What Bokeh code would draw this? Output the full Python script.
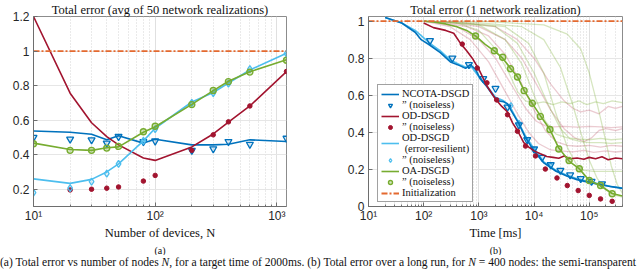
from bokeh.plotting import figure
from bokeh.models import FixedTicker, Legend, LegendItem, Title, Div, Range1d
from bokeh.layouts import row, column
from bokeh.embed import file_html
from bokeh.resources import INLINE

BLUE = "#0072BD"; RED = "#A2142F"; LBLUE = "#4DBEEE"; GREEN = "#77AC30"; ORANGE = "#E4692F"
nan = float("nan")

# ---------------- (a) Total error vs number of devices ----------------
N = [10, 20, 30, 40, 50, 80, 100, 200, 300, 400, 600, 1200]
ncota_a = [0.537, 0.53, 0.518, 0.486, 0.51, 0.467, 0.489, 0.457, 0.457, 0.46, 0.486, 0.476]
ncota_nl_a = [0.50, 0.49, 0.486, 0.467, 0.505, 0.475, 0.479, 0.425, 0.434, 0.476, 0.46, 0.495]
od_a = [1.2, 0.756, 0.585, 0.505, 0.457, 0.381, 0.367, 0.445, 0.52, 0.588, 0.682, 0.881]
od_nl_a = [nan, 0.196, 0.2, 0.206, 0.213, 0.247, 0.28, 0.425, 0.515, 0.59, 0.682, 0.882]
er_a = [0.26, 0.234, 0.257, 0.30, 0.347, 0.48, 0.553, 0.705, 0.76, 0.815, 0.89, 0.987]
er_nl_a = [0.18, 0.206, 0.244, 0.29, 0.347, 0.48, 0.548, 0.70, 0.757, 0.812, 0.895, 0.985]
oa_a = [0.467, 0.43, 0.425, 0.44, 0.445, 0.53, 0.562, 0.691, 0.771, 0.825, 0.88, 0.949]
oa_nl_a = [0.463, 0.425, 0.425, 0.438, 0.448, 0.533, 0.565, 0.69, 0.772, 0.823, 0.878, 0.947]
init_level = 1.0
xticks_a = [10, 100, 1000]
xminor_a = [20, 30, 40, 50, 60, 70, 80, 90, 200, 300, 400, 500, 600, 700, 800, 900]
yticks_a = [0.2, 0.4, 0.6, 0.8, 1.0, 1.2]
ylabels_a = ["0.2", "0.4", "0.6", "0.8", "1", "1.2"]

# ---------------- (b) Total error over time (N = 400) ----------------
t_ncota = [20, 40, 70, 90, 130, 200, 305, 450, 573, 700, 870, 1070, 1400, 1800, 2150, 2800, 3300, 3800,
           5300, 7000, 1e4, 1.5e4, 2.5e4, 4e4, 6e4, 1e5, 1.6e5, 2.5e5, 4e5]
y_ncota = [1.02, 0.99, 0.94, 0.90, 0.87, 0.83, 0.78, 0.76, 0.745, 0.765, 0.74, 0.686, 0.646, 0.60, 0.571,
           0.565, 0.555, 0.52, 0.447, 0.37, 0.30, 0.235, 0.19, 0.163, 0.145, 0.13, 0.118, 0.107, 0.098]
t_ncota_nl = [130, 330, 660, 1200, 2000, 3300, 5300, 7500, 1e4, 1.4e4, 2e4, 3e4, 4.5e4, 7e4, 1.1e5, 1.7e5]
y_ncota_nl = [0.895, 0.80, 0.765, 0.69, 0.637, 0.536, 0.44, 0.36, 0.31, 0.265, 0.225, 0.195, 0.17, 0.15,
              0.135, 0.122]
t_od = [100, 150, 250, 350, 465, 600, 760, 1000, 1400, 2000, 2600, 3300, 4100, 5000, 6500, 8000, 1e4,
        1.3e4, 1.7e4, 2.2e4, 2.8e4, 3.5e4, 4.5e4, 6e4, 8e4, 1e5, 1.3e5, 1.7e5, 2.2e5, 3e5, 4e5]
y_od = [0.99, 0.965, 0.95, 0.935, 0.88, 0.84, 0.80, 0.74, 0.65, 0.58, 0.54, 0.51, 0.45, 0.41, 0.345, 0.32,
        0.30, 0.285, 0.27, 0.265, 0.26, 0.272, 0.258, 0.262, 0.255, 0.265, 0.258, 0.268, 0.252, 0.262, 0.258]
t_od_nl = [500, 935, 1400, 2100, 3300, 5000, 7000, 1.06e4, 1.6e4, 2.6e4, 4e4, 6.3e4, 1e5, 1.6e5, 2.6e5]
y_od_nl = [0.876, 0.747, 0.667, 0.575, 0.495, 0.406, 0.326, 0.273, 0.202, 0.154, 0.113, 0.086, 0.06, 0.041,
           0.028]
t_er = [20, 40, 70, 130, 200, 305, 450, 600, 750, 1000, 1400, 2000, 2800, 3800, 5300, 7000, 1e4, 1.5e4,
        2.5e4, 4e4, 6e4, 1e5, 1.6e5, 2.5e5, 4e5]
y_er = [1.02, 0.99, 0.95, 0.88, 0.84, 0.79, 0.765, 0.75, 0.75, 0.70, 0.65, 0.59, 0.57, 0.53, 0.45, 0.38,
        0.31, 0.24, 0.195, 0.168, 0.15, 0.133, 0.12, 0.108, 0.10]
t_er_nl = [3800, 5300, 1e4, 2e4]
y_er_nl = [0.545, 0.45, 0.305, 0.22]
t_oa = [100, 150, 250, 400, 600, 870, 1300, 1900, 2700, 3750, 5000, 6600, 9300, 1.3e4, 1.94e4, 2.8e4,
        4.3e4, 6.6e4, 1e5, 1.6e5, 2.6e5, 4e5]
y_oa = [1.0, 0.995, 0.985, 0.97, 0.95, 0.92, 0.875, 0.84, 0.80, 0.745, 0.70, 0.625, 0.555, 0.49, 0.415,
        0.315, 0.245, 0.203, 0.14, 0.112, 0.07, 0.057]
t_oa_nl = [870, 1900, 2700, 3750, 5000, 6600, 9300, 1.3e4, 1.94e4, 2.8e4, 4.3e4, 6.6e4, 1e5, 1.6e5, 2.6e5]
y_oa_nl = [0.92, 0.84, 0.805, 0.743, 0.699, 0.625, 0.557, 0.486, 0.415, 0.31, 0.248, 0.204, 0.14, 0.113,
           0.069]

# semi-transparent runs
faint_od_t = [
    [100, 300, 700, 1500, 3000, 5000, 8000, 1.2e4, 2e4, 3e4, 5e4, 8e4, 1.2e5, 2e5, 3e5, 4e5],
    [120, 400, 1000, 2000, 4000, 7000, 1.1e4, 1.6e4, 2.2e4, 3.5e4, 6e4, 1e5, 1.6e5, 2.5e5, 4e5],
    [150, 600, 1500, 3000, 6000, 1e4, 1.6e4, 2.5e4, 4e4, 6e4, 1e5, 1.6e5, 2.5e5, 4e5],
    [200, 1000, 3000, 6000, 1.1e4, 2e4, 3.5e4, 5.5e4, 8e4, 1.1e5, 1.5e5, 2e5, 3e5, 4e5],
    [300, 2000, 5000, 1e4, 2e4, 3.5e4, 5e4, 7e4, 1e5, 1.5e5, 2.2e5, 3e5, 4e5],
]
faint_od_y = [
    [1.0, 0.97, 0.9, 0.78, 0.62, 0.5, 0.4, 0.34, 0.305, 0.30, 0.295, 0.303, 0.292, 0.30, 0.294, 0.298],
    [1.0, 0.97, 0.9, 0.8, 0.65, 0.53, 0.46, 0.435, 0.43, 0.432, 0.428, 0.432, 0.43, 0.425, 0.43],
    [1.0, 0.97, 0.92, 0.82, 0.66, 0.52, 0.41, 0.35, 0.33, 0.325, 0.33, 0.32, 0.33, 0.325],
    [1.0, 0.97, 0.9, 0.8, 0.66, 0.52, 0.42, 0.37, 0.35, 0.37, 0.41, 0.42, 0.41, 0.42],
    [1.0, 0.97, 0.9, 0.8, 0.66, 0.57, 0.53, 0.51, 0.52, 0.5, 0.54, 0.53, 0.54],
]
faint_oa_t = [
    [100, 400, 1000, 2000, 3500, 5000, 7000, 1e4, 1.5e4, 2.2e4, 3.2e4, 4.5e4, 6.5e4, 9e4, 1.3e5, 1.8e5, 2.6e5, 4e5],
    [150, 1000, 3000, 6000, 1e4, 1.6e4, 2.5e4, 4e4, 6e4, 1e5, 1.6e5, 2.5e5, 4e5],
    [200, 2000, 5000, 1e4, 1.8e4, 3e4, 4.5e4, 7e4, 1e5, 1.6e5, 2.5e5, 4e5],
    [300, 3000, 8000, 1.5e4, 2.5e4, 4e4, 6e4, 8e4, 1.2e5, 2e5, 4e5],
    [500, 6000, 1.5e4, 3e4, 5e4, 7e4, 1e5, 1.4e5, 2e5, 3e5, 4e5],
    [1000, 1.5e4, 4e4, 7e4, 1e5, 1.4e5, 1.9e5, 2.5e5, 3.2e5, 4e5],
]
faint_oa_y = [
    [1.0, 0.99, 0.95, 0.85, 0.72, 0.62, 0.57, 0.555, 0.565, 0.55, 0.565, 0.555, 0.57, 0.55, 0.565, 0.555, 0.57, 0.56],
    [1.0, 0.98, 0.9, 0.77, 0.6, 0.46, 0.39, 0.37, 0.365, 0.36, 0.368, 0.36, 0.365],
    [1.0, 0.97, 0.88, 0.72, 0.55, 0.42, 0.365, 0.35, 0.345, 0.345, 0.34, 0.345],
    [1.0, 0.97, 0.88, 0.72, 0.5, 0.32, 0.22, 0.195, 0.19, 0.19, 0.19],
    [1.0, 0.97, 0.9, 0.75, 0.55, 0.4, 0.25, 0.15, 0.09, 0.06, 0.05],
    [1.0, 0.98, 0.93, 0.85, 0.72, 0.55, 0.38, 0.22, 0.12, 0.07],
]
t_range_b = (10, 4e5)
xticks_b = [10, 100, 1000, 1e4, 1e5]
xminor_b = [m * d for d in (10, 100, 1000, 1e4, 1e5) for m in range(2, 10)]
yticks_b = [0, 0.2, 0.4, 0.6, 0.8, 1.0]
ylabels_b = ["0", "0.2", "0.4", "0.6", "0.8", "1"]
SUP = {10: "10\u00b9", 100: "10\u00b2", 1000: "10\u00b3", 1e4: "10\u2074", 1e5: "10\u2075"}

SERIF = "Liberation Serif"
SANS = "Liberation Sans"
FIG_H = 255


def style(p, xt, xm, yt, yl, title, xlabel, sub):
    p.title.text = title
    p.title.align = "center"
    p.title.text_font = SERIF
    p.title.text_font_size = "12.5px"
    p.title.text_font_style = "normal"
    p.title.text_color = "#111111"
    p.title.standoff = 0
    p.outline_line_color = "#8c8c8c"
    p.background_fill_color = "white"
    p.border_fill_color = "white"
    p.xaxis.ticker = FixedTicker(ticks=xt, minor_ticks=xm)
    p.xaxis.major_label_overrides = {k: SUP[k] for k in xt}
    p.yaxis.ticker = FixedTicker(ticks=yt)
    p.yaxis.major_label_overrides = dict(zip(yt, yl))
    for ax in p.axis:
        ax.axis_line_color = "#6e6e6e"
        ax.major_tick_line_color = "#6e6e6e"
        ax.minor_tick_line_color = "#6e6e6e"
        ax.major_tick_in = 4
        ax.major_tick_out = 0
        ax.minor_tick_in = 2
        ax.minor_tick_out = 0
        ax.major_label_text_font = SANS
        ax.major_label_text_font_size = "12px"
        ax.major_label_text_color = "#262626"
        ax.major_label_standoff = 4
    p.xaxis.major_label_standoff = 2
    p.yaxis.minor_tick_line_color = None
    p.xaxis.axis_label = xlabel
    p.xaxis.axis_label_text_font = SERIF
    p.xaxis.axis_label_text_font_size = "12.5px"
    p.xaxis.axis_label_text_font_style = "normal"
    p.xaxis.axis_label_text_color = "#111111"
    p.xaxis.axis_label_standoff = 0
    p.xgrid.grid_line_color = "#e0e0e0"
    p.xgrid.minor_grid_line_color = "#d4d4d4"
    p.xgrid.minor_grid_line_dash = "1 2"
    p.ygrid.grid_line_color = "#e6e6e6"
    p.add_layout(Title(text=sub, align="center", text_font=SERIF, text_font_size="10px",
                       text_font_style="normal", text_color="#111111", standoff=0), "below")


# ---- panel (a)
pa = figure(width=320, height=FIG_H, x_axis_type="log", output_backend="svg", toolbar_location=None,
            x_range=Range1d(N[0], N[-1]), y_range=Range1d(0.1, 1.2),
            min_border_left=33, min_border_right=34, min_border_top=0, min_border_bottom=0)
style(pa, xticks_a, xminor_a, yticks_a, ylabels_a, "Total error (avg of 50 network realizations)",
      "Number of devices, N", "(a)")
pa.line(N, ncota_a, color=BLUE, line_width=1.6)
pa.scatter(N, ncota_nl_a, marker="inverted_triangle", size=7, line_color=BLUE, fill_color=BLUE,
           fill_alpha=0.15, line_width=1.3)
pa.line(N, od_a, color=RED, line_width=1.6)
pa.scatter(N, od_nl_a, marker="circle", size=4.5, color=RED)
pa.line(N, er_a, color=LBLUE, line_width=1.6)
pa.scatter(N, er_nl_a, marker="diamond", size=7, line_color=LBLUE, fill_color=LBLUE, fill_alpha=0.15,
           line_width=1.3)
pa.line(N, oa_a, color=GREEN, line_width=1.6)
pa.scatter(N, oa_nl_a, marker="circle", size=6, line_color=GREEN, fill_color=GREEN, fill_alpha=0.3,
           line_width=1.4)
pa.line([N[0], N[-1]], [init_level, init_level], color=ORANGE, line_width=1.8, line_dash="6 2 2 2")

# ---- panel (b)
pb = figure(width=320, height=FIG_H, x_axis_type="log", output_backend="svg", toolbar_location=None,
            x_range=Range1d(*t_range_b), y_range=Range1d(0, 1.025),
            min_border_left=48, min_border_right=18, min_border_top=0, min_border_bottom=0)
style(pb, xticks_b, xminor_b, yticks_b, ylabels_b, "Total error (1 network realization)", "Time [ms]", "(b)")
for tt, yy in zip(faint_od_t, faint_od_y):
    pb.line(tt, yy, color=RED, alpha=0.22, line_width=1.3)
for tt, yy in zip(faint_oa_t, faint_oa_y):
    pb.line(tt, yy, color=GREEN, alpha=0.3, line_width=1.3)
r_er = pb.line(t_er, y_er, color=LBLUE, line_width=1.6)
r_er_nl = pb.scatter(t_er_nl, y_er_nl, marker="diamond", size=6, line_color=LBLUE, fill_color=LBLUE,
                     fill_alpha=0.15, line_width=1.2)
r_nc = pb.line(t_ncota, y_ncota, color=BLUE, line_width=1.6)
r_nc_nl = pb.scatter(t_ncota_nl, y_ncota_nl, marker="inverted_triangle", size=7, line_color=BLUE,
                     fill_color=BLUE, fill_alpha=0.15, line_width=1.3)
r_od = pb.line(t_od, y_od, color=RED, line_width=1.6)
r_od_nl = pb.scatter(t_od_nl, y_od_nl, marker="circle", size=4.5, color=RED)
r_oa = pb.line(t_oa, y_oa, color=GREEN, line_width=1.6)
r_oa_nl = pb.scatter(t_oa_nl, y_oa_nl, marker="circle", size=6, line_color=GREEN, fill_color=GREEN,
                     fill_alpha=0.3, line_width=1.4)
r_init = pb.line(list(t_range_b), [init_level, init_level], color=ORANGE, line_width=1.8,
                 line_dash="6 2 2 2")

q = "\u201d"
legend = Legend(items=[
    LegendItem(label="NCOTA-DSGD", renderers=[r_nc]),
    LegendItem(label=q + " (noiseless)", renderers=[r_nc_nl]),
    LegendItem(label="OD-DSGD", renderers=[r_od]),
    LegendItem(label=q + " (noiseless)", renderers=[r_od_nl]),
    LegendItem(label="OD-DSGD\n (error-resilient)", renderers=[r_er]),
    LegendItem(label=q + " (noiseless)", renderers=[r_er_nl]),
    LegendItem(label="OA-DSGD", renderers=[r_oa]),
    LegendItem(label=q + " (noiseless)", renderers=[r_oa_nl]),
    LegendItem(label="Initialization", renderers=[r_init]),
], location=(9, 4))
legend.label_text_font = SERIF
legend.label_text_font_size = "10.5px"
legend.label_text_color = "#111111"
legend.label_height = 10
legend.glyph_height = 10
legend.glyph_width = 18
legend.label_standoff = 3
legend.spacing = 0
legend.padding = 3
legend.margin = 0
legend.border_line_color = "#444444"
legend.border_line_width = 0.8
legend.background_fill_alpha = 1.0
pb.add_layout(legend)

caption_text = ("(a) Total error vs number of nodes <i>N</i>, for a target time of 2000ms. "
                "(b) Total error over a long run, for <i>N</i> = 400 nodes: the semi-transparent")
caption = Div(text='<div style="width:640px;overflow:hidden;white-space:nowrap;line-height:15px;'
                   'font-family:\'Liberation Serif\';font-size:11.6px;color:#111111">' + caption_text + '</div>',
              width=640, height=15, margin=(0, 0, 0, 0))

layout = column(row(pa, pb), caption)
open("out.html", "w").write(file_html(layout, INLINE))
